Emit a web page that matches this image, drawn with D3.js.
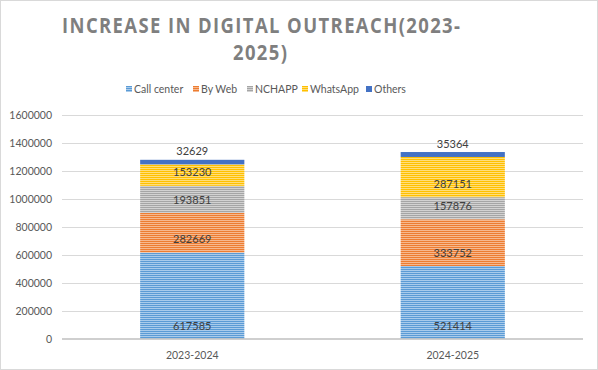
<!DOCTYPE html>
<html>
<head>
<meta charset="utf-8">
<script src="https://cdn.jsdelivr.net/npm/d3@7"></script>
<style>
  body { margin: 0; background: #fff; }
  svg { display: block; font-family: Lato, "Open Sans", sans-serif; }
</style>
</head>
<body>
<div id="chart"></div>
<script>
// data
var years = ["2023-2024", "2024-2025"];
var channels = ["Call center", "By Web", "NCHAPP", "WhatsApp", "Others"];
var callCenter = [617585, 521414];
var byWeb = [282669, 333752];
var nchapp = [193851, 157876];
var whatsApp = [153230, 287151];
var others = [32629, 35364];
var yTicks = [0, 200000, 400000, 600000, 800000, 1000000, 1200000, 1400000, 1600000];

var colors = ["#5B9BD5", "#ED7D31", "#A5A5A5", "#FFC000", "#4472C4"];
var lightColors = ["#A9CBEB", "#F6B88F", "#D2D2D2", "#FFDE7A", "#4472C4"];

var width = 598, height = 370;
var margin = { top: 115, right: 15, bottom: 31, left: 62 };
var labelOffset = 95000;

var rows = years.map(function (yr, i) {
  return {
    year: yr,
    "Call center": callCenter[i],
    "By Web": byWeb[i],
    "NCHAPP": nchapp[i],
    "WhatsApp": whatsApp[i],
    "Others": others[i]
  };
});

var svg = d3.select("#chart").append("svg")
  .attr("width", width).attr("height", height);

svg.append("rect")
  .attr("x", 0.5).attr("y", 0.5)
  .attr("width", width - 1).attr("height", height - 1)
  .attr("fill", "#fff").attr("stroke", "#d9d9d9");

// striped fills
var defs = svg.append("defs");
channels.forEach(function (c, i) {
  var p = defs.append("pattern")
    .attr("id", "pat" + i)
    .attr("patternUnits", "userSpaceOnUse")
    .attr("width", 4).attr("height", 2);
  p.append("rect").attr("width", 4).attr("height", 2).attr("fill", colors[i]);
  p.append("rect").attr("width", 4).attr("height", 1).attr("fill", lightColors[i]);
});

var x = d3.scaleBand()
  .domain(years)
  .range([margin.left, width - margin.right])
  .paddingInner(0.6).paddingOuter(0.3);

var y = d3.scaleLinear()
  .domain([0, 1600000])
  .range([height - margin.bottom, margin.top]);

// gridlines
svg.append("g").selectAll("line")
  .data(yTicks.slice(1)).enter().append("line")
  .attr("x1", margin.left).attr("x2", width - margin.right)
  .attr("y1", function (d) { return Math.round(y(d)) + 0.5; })
  .attr("y2", function (d) { return Math.round(y(d)) + 0.5; })
  .attr("stroke", "#d9d9d9");

// y labels
svg.append("g").selectAll("text")
  .data(yTicks).enter().append("text")
  .attr("x", margin.left - 10)
  .attr("y", function (d) { return y(d); })
  .attr("dy", "0.35em")
  .attr("text-anchor", "end")
  .attr("font-size", 10.5)
  .attr("fill", "#595959")
  .text(function (d) { return d; });

var series = d3.stack().keys(channels)(rows);

var layer = svg.append("g").selectAll("g")
  .data(series).enter().append("g")
  .attr("fill", function (d, i) { return "url(#pat" + i + ")"; });

layer.selectAll("rect")
  .data(function (d) { return d; }).enter().append("rect")
  .attr("x", function (d) { return x(d.data.year); })
  .attr("width", x.bandwidth())
  .attr("y", function (d) { return y(d[1]); })
  .attr("height", function (d) { return y(d[0]) - y(d[1]); });

// axis baseline
svg.append("line")
  .attr("x1", margin.left).attr("x2", width - margin.right)
  .attr("y1", y(0)).attr("y2", y(0))
  .attr("stroke", "#bfbfbf").attr("stroke-width", 1.5);

// data labels
var labels = svg.append("g");
series.forEach(function (s) {
  s.forEach(function (d) {
    labels.append("text")
      .attr("x", x(d.data.year) + x.bandwidth() / 2)
      .attr("y", y(d[0] + labelOffset))
      .attr("dy", "0.35em")
      .attr("text-anchor", "middle")
      .attr("font-size", 11)
      .attr("fill", "#404040")
      .text(d[1] - d[0]);
  });
});

// category labels
svg.append("g").selectAll("text")
  .data(years).enter().append("text")
  .attr("x", function (d) { return x(d) + x.bandwidth() / 2; })
  .attr("y", y(0) + 16)
  .attr("dy", "0.35em")
  .attr("text-anchor", "middle")
  .attr("font-size", 10.5)
  .attr("fill", "#595959")
  .text(function (d) { return d; });

// title (narrowed glyphs + spacing to mimic the original)
var squeeze = 0.9;
var titleLines = [
  { text: "INCREASE IN DIGITAL OUTREACH(2023-", x: 62, y: 33, w: 398 },
  { text: "2025)", x: 233, y: 60, w: 54 }
];
titleLines.forEach(function (t) {
  svg.append("g")
    .attr("transform", "translate(" + t.x + "," + t.y + ") scale(" + squeeze + ",1)")
    .append("text")
    .attr("font-family", "'Open Sans', sans-serif")
    .attr("font-size", 20.5)
    .attr("font-weight", 700)
    .attr("fill", "#7f7f7f")
    .attr("textLength", t.w / squeeze)
    .attr("lengthAdjust", "spacing")
    .text(t.text);
});

// legend
var legendX = [126, 193, 247, 302, 366];
var legend = svg.append("g").selectAll("g")
  .data(channels).enter().append("g")
  .attr("transform", function (d, i) { return "translate(" + legendX[i] + ",89)"; });
legend.append("rect")
  .attr("x", 0).attr("y", -3)
  .attr("width", 6).attr("height", 6)
  .attr("fill", function (d, i) { return "url(#pat" + i + ")"; });
legend.append("text")
  .attr("x", 8).attr("dy", "0.35em")
  .attr("font-size", 10.5)
  .attr("fill", "#595959")
  .text(function (d) { return d; });
</script>
</body>
</html>
